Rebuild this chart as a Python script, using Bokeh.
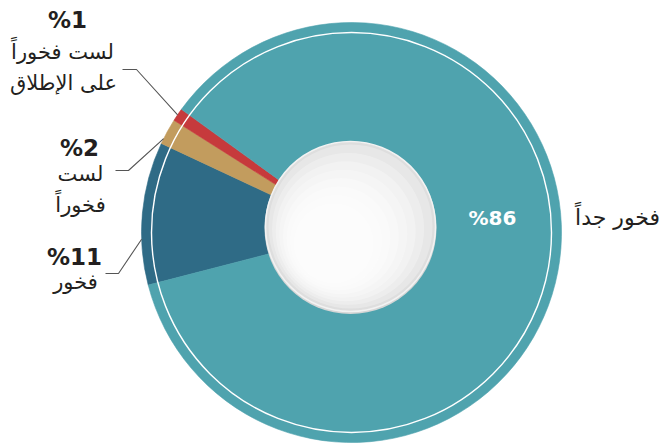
import math
from bokeh.plotting import figure
from bokeh.models import Range1d
from bokeh.core.properties import value
from bokeh.embed import file_html
from bokeh.resources import INLINE

# ---- data ----
categories = ["فخور", "لست فخوراً", "لست فخوراً على الإطلاق", "فخور جداً"]
percent = [11, 2, 1, 86]
pct_labels = ["%11", "%2", "%1", "%86"]
colors = ["#2f6b86", "#c29c5e", "#c63a3c", "#4fa3ae"]

# ---- layout ----
W, H = 663, 446
CX, CY = 351, H - 232
R_OUT = 210
R_RING = 200
START_DEG = 194.5

p = figure(width=W, height=H, x_range=Range1d(0, W), y_range=Range1d(0, H),
           x_axis_type=None, y_axis_type=None, output_backend="svg",
           toolbar_location=None, min_border=0, outline_line_color=None,
           background_fill_color="white", border_fill_color="white")
p.grid.visible = False

starts, ends, cum = [], [], 0
for v in percent:
    starts.append(math.radians(START_DEG - cum * 3.6))
    cum += v
    ends.append(math.radians(START_DEG - cum * 3.6))

p.wedge(x=CX, y=CY, radius=R_OUT, start_angle=starts, end_angle=ends,
        direction="clock", fill_color=colors, line_color=colors, line_width=0.6)

# thin white ring
p.circle(x=CX, y=CY, radius=R_RING, fill_color=None, line_color="white", line_width=1.4)

# inner disc with soft shading
ICX, ICY, IR = 350, H - 226, 85
p.circle(x=ICX, y=ICY - 1.5, radius=IR + 1, fill_color="#d6d6d6", line_color=None)
p.circle(x=ICX, y=ICY, radius=IR, fill_color="#dedede", line_color="#f2f2f2", line_width=1.5)
for k in range(8):
    rr = IR - 3 - k * 6
    p.circle(x=ICX - k * 2.4, y=ICY - k * 2.4, radius=rr, fill_color="white",
             fill_alpha=0.28, line_color=None)

def Y(s):
    return H - s

# leader lines
slice_frac = {0: 0.32, 1: 0.2, 2: 0.5}
label_anchor = {0: (105, 273, 118), 1: (115, 170, 128), 2: (122, 69, 136)}
for i in (0, 1, 2):
    a = starts[i] + (ends[i] - starts[i]) * slice_frac[i]
    ex = CX + R_OUT * math.cos(a)
    ey = CY + R_OUT * math.sin(a)
    x0, ys, x1 = label_anchor[i]
    p.line(x=[x0, x1, ex], y=[Y(ys), Y(ys), ey], line_color="#555555", line_width=1.1)

TXT = "#231f20"
arab_font = value("DejaVu Sans")
num_font = value("DejaVu Sans")

# percentage labels on the left
pct_pos = {0: (74, 256), 1: (79, 147), 2: (67, 19)}
for i, (x, ys) in pct_pos.items():
    p.text(x=[x], y=[Y(ys)], text=[pct_labels[i]], text_font=num_font,
           text_font_style="bold", text_font_size="23px", text_color=TXT,
           text_align="center", text_baseline="middle")

# category labels (wrapped lines)
cat_lines = {
    0: [("فخور", 75, 281)],
    1: [("لست", 80, 173), ("فخوراً", 80, 204)],
    2: [("لست فخوراً", 62, 51), ("على الإطلاق", 63, 82)],
}
for i, lines in cat_lines.items():
    for t, x, ys in lines:
        p.text(x=[x], y=[Y(ys)], text=[t], text_font=arab_font,
               text_font_size="21px", text_color=TXT,
               text_align="center", text_baseline="middle")

# big slice labels
p.text(x=[492], y=[Y(217)], text=[pct_labels[3]], text_font=num_font,
       text_font_style="bold", text_font_size="20px", text_color="white",
       text_align="center", text_baseline="middle")
p.text(x=[617], y=[Y(217)], text=[categories[3]], text_font=arab_font,
       text_font_size="22px", text_color=TXT,
       text_align="center", text_baseline="middle")

open("out.html", "w").write(file_html(p, INLINE))
